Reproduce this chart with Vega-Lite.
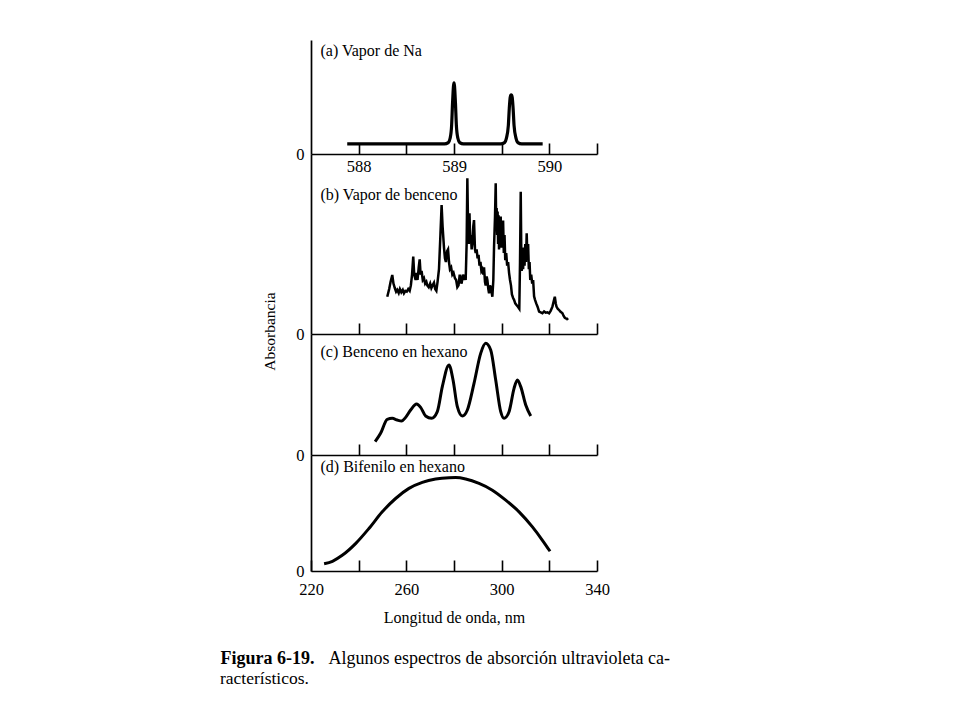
{
  "$schema": "https://vega.github.io/schema/vega-lite/v6.json",
  "padding": {"left": 220, "top": 40, "right": 20, "bottom": 10},
  "background": "white",
  "bounds": "flush",
  "spacing": 0,
  "config": {
    "view": {"stroke": null},
    "font": "Liberation Serif",
    "axis": {
      "domainColor": "black", "domainWidth": 1.7, "tickColor": "black", "tickWidth": 1.6,
      "labelColor": "black", "titleColor": "black", "labelFont": "Liberation Serif", "titleFont": "Liberation Serif",
      "labelFontSize": 16.5, "titleFontSize": 16, "titleFontWeight": "normal", "grid": false,
      "labelFlush": false, "labelOverlap": false
    },
    "title": {"font": "Liberation Serif", "color": "black"}
  },
  "vconcat": [
    {
      "width": 286, "height": 114,
      "data": {"values": [
        {"nm": 587.88, "A": 0.088}, {"nm": 588.90, "A": 0.088}, {"nm": 588.94, "A": 0.10}, {"nm": 588.96, "A": 0.14},
        {"nm": 588.975, "A": 0.25}, {"nm": 588.985, "A": 0.45}, {"nm": 588.995, "A": 0.60}, {"nm": 589.0, "A": 0.625},
        {"nm": 589.005, "A": 0.60}, {"nm": 589.015, "A": 0.45}, {"nm": 589.025, "A": 0.25}, {"nm": 589.04, "A": 0.14},
        {"nm": 589.06, "A": 0.10}, {"nm": 589.10, "A": 0.088}, {"nm": 589.49, "A": 0.088}, {"nm": 589.53, "A": 0.10},
        {"nm": 589.55, "A": 0.14}, {"nm": 589.57, "A": 0.25}, {"nm": 589.58, "A": 0.40}, {"nm": 589.59, "A": 0.50},
        {"nm": 589.6, "A": 0.518}, {"nm": 589.61, "A": 0.50}, {"nm": 589.62, "A": 0.40}, {"nm": 589.63, "A": 0.25},
        {"nm": 589.65, "A": 0.14}, {"nm": 589.67, "A": 0.10}, {"nm": 589.71, "A": 0.088}, {"nm": 589.93, "A": 0.088}
      ]},
      "mark": {"type": "line", "color": "black", "strokeWidth": 3.2, "interpolate": "monotone"},
      "encoding": {
        "x": {"field": "nm", "type": "quantitative", "scale": {"domain": [587.5, 590.5], "nice": false, "zero": false},
          "axis": {"values": [588, 588.5, 589, 589.5, 590, 590.5], "tickSize": -11, "labelPadding": 15,
            "labelExpr": "datum.value % 1 == 0 ? format(datum.value, 'd') : ''",
            "title": "Figura 6-19.", "titleX": -91, "titleY": 509, "titleAngle": 0, "titleAlign": "left",
            "titleBaseline": "alphabetic", "titleFontWeight": "bold", "titleFontSize": 18}},
        "y": {"field": "A", "type": "quantitative", "scale": {"domain": [0, 1], "nice": false},
          "axis": {"values": [0], "ticks": false, "labelPadding": 7, "title": "(a) Vapor de Na",
            "titleAngle": 0, "titleX": 9, "titleY": 10, "titleAlign": "left", "titleBaseline": "middle"}}
      }
    },
    {
      "width": 286, "height": 180,
      "data": {"values": [
        {"nm": 252.0, "A": 0.207}, {"nm": 252.8, "A": 0.25}, {"nm": 253.4, "A": 0.29}, {"nm": 254.1, "A": 0.328},
        {"nm": 254.6, "A": 0.28}, {"nm": 255.2, "A": 0.254}, {"nm": 255.7, "A": 0.235}, {"nm": 256.2, "A": 0.245},
        {"nm": 256.8, "A": 0.228}, {"nm": 257.3, "A": 0.25}, {"nm": 257.9, "A": 0.232}, {"nm": 258.5, "A": 0.245},
        {"nm": 259.0, "A": 0.226}, {"nm": 259.6, "A": 0.24}, {"nm": 260.2, "A": 0.236}, {"nm": 260.8, "A": 0.25},
        {"nm": 261.4, "A": 0.24}, {"nm": 261.9, "A": 0.27}, {"nm": 262.4, "A": 0.33}, {"nm": 262.9, "A": 0.43},
        {"nm": 263.3, "A": 0.33}, {"nm": 263.9, "A": 0.30}, {"nm": 264.3, "A": 0.34}, {"nm": 264.7, "A": 0.30},
        {"nm": 265.2, "A": 0.37}, {"nm": 265.6, "A": 0.415}, {"nm": 266.0, "A": 0.33}, {"nm": 266.4, "A": 0.35},
        {"nm": 266.9, "A": 0.30}, {"nm": 267.4, "A": 0.31}, {"nm": 267.9, "A": 0.28}, {"nm": 268.4, "A": 0.29},
        {"nm": 268.8, "A": 0.27}, {"nm": 269.4, "A": 0.26}, {"nm": 270.0, "A": 0.28}, {"nm": 270.5, "A": 0.255},
        {"nm": 271.0, "A": 0.27}, {"nm": 271.6, "A": 0.285}, {"nm": 272.1, "A": 0.25}, {"nm": 272.6, "A": 0.24},
        {"nm": 273.1, "A": 0.29}, {"nm": 273.7, "A": 0.36}, {"nm": 274.3, "A": 0.55}, {"nm": 274.8, "A": 0.717},
        {"nm": 275.2, "A": 0.60}, {"nm": 275.8, "A": 0.48}, {"nm": 276.2, "A": 0.42}, {"nm": 276.6, "A": 0.40},
        {"nm": 277.1, "A": 0.46}, {"nm": 277.5, "A": 0.47}, {"nm": 277.9, "A": 0.40}, {"nm": 278.3, "A": 0.36},
        {"nm": 278.8, "A": 0.37}, {"nm": 279.3, "A": 0.33}, {"nm": 279.8, "A": 0.34}, {"nm": 280.4, "A": 0.31},
        {"nm": 280.9, "A": 0.30}, {"nm": 281.4, "A": 0.26}, {"nm": 281.9, "A": 0.27}, {"nm": 282.4, "A": 0.33},
        {"nm": 282.8, "A": 0.30}, {"nm": 283.2, "A": 0.28}, {"nm": 283.7, "A": 0.33}, {"nm": 284.2, "A": 0.30},
        {"nm": 284.6, "A": 0.33}, {"nm": 284.9, "A": 0.30}, {"nm": 285.3, "A": 0.50}, {"nm": 285.6, "A": 0.865},
        {"nm": 285.9, "A": 0.60}, {"nm": 286.2, "A": 0.50}, {"nm": 286.5, "A": 0.67}, {"nm": 286.8, "A": 0.52},
        {"nm": 287.1, "A": 0.55}, {"nm": 287.4, "A": 0.47}, {"nm": 287.7, "A": 0.50}, {"nm": 288.1, "A": 0.60},
        {"nm": 288.4, "A": 0.633}, {"nm": 288.8, "A": 0.47}, {"nm": 289.1, "A": 0.45}, {"nm": 289.5, "A": 0.47},
        {"nm": 289.9, "A": 0.42}, {"nm": 290.3, "A": 0.44}, {"nm": 290.7, "A": 0.38}, {"nm": 291.1, "A": 0.40},
        {"nm": 291.5, "A": 0.35}, {"nm": 291.9, "A": 0.36}, {"nm": 292.3, "A": 0.33}, {"nm": 292.6, "A": 0.37},
        {"nm": 293.0, "A": 0.29}, {"nm": 293.3, "A": 0.27}, {"nm": 293.7, "A": 0.32}, {"nm": 294.0, "A": 0.30},
        {"nm": 294.4, "A": 0.25}, {"nm": 294.7, "A": 0.226}, {"nm": 295.1, "A": 0.27}, {"nm": 295.4, "A": 0.26},
        {"nm": 295.8, "A": 0.23}, {"nm": 296.1, "A": 0.207}, {"nm": 296.5, "A": 0.30}, {"nm": 296.8, "A": 0.485},
        {"nm": 297.2, "A": 0.65}, {"nm": 297.5, "A": 0.837}, {"nm": 297.7, "A": 0.62}, {"nm": 297.9, "A": 0.70},
        {"nm": 298.1, "A": 0.55}, {"nm": 298.3, "A": 0.68}, {"nm": 298.5, "A": 0.50}, {"nm": 298.7, "A": 0.66},
        {"nm": 298.9, "A": 0.47}, {"nm": 299.1, "A": 0.64}, {"nm": 299.3, "A": 0.50}, {"nm": 299.6, "A": 0.652},
        {"nm": 299.8, "A": 0.48}, {"nm": 300.0, "A": 0.60}, {"nm": 300.3, "A": 0.485}, {"nm": 300.6, "A": 0.63},
        {"nm": 300.9, "A": 0.45}, {"nm": 301.2, "A": 0.55}, {"nm": 301.5, "A": 0.41}, {"nm": 301.9, "A": 0.45},
        {"nm": 302.3, "A": 0.38}, {"nm": 302.7, "A": 0.40}, {"nm": 303.1, "A": 0.34}, {"nm": 303.5, "A": 0.30},
        {"nm": 303.9, "A": 0.27}, {"nm": 304.3, "A": 0.22}, {"nm": 304.8, "A": 0.20}, {"nm": 305.2, "A": 0.19},
        {"nm": 305.7, "A": 0.17}, {"nm": 306.3, "A": 0.16}, {"nm": 306.9, "A": 0.15}, {"nm": 307.4, "A": 0.14},
        {"nm": 307.7, "A": 0.40}, {"nm": 308.0, "A": 0.79}, {"nm": 308.2, "A": 0.50}, {"nm": 308.4, "A": 0.35},
        {"nm": 308.7, "A": 0.45}, {"nm": 309.0, "A": 0.36}, {"nm": 309.3, "A": 0.48}, {"nm": 309.6, "A": 0.38},
        {"nm": 309.9, "A": 0.50}, {"nm": 310.2, "A": 0.40}, {"nm": 310.5, "A": 0.56}, {"nm": 310.8, "A": 0.42},
        {"nm": 311.1, "A": 0.50}, {"nm": 311.4, "A": 0.36}, {"nm": 311.7, "A": 0.40}, {"nm": 312.0, "A": 0.30},
        {"nm": 312.4, "A": 0.33}, {"nm": 312.8, "A": 0.28}, {"nm": 313.2, "A": 0.30}, {"nm": 313.6, "A": 0.21},
        {"nm": 314.0, "A": 0.19}, {"nm": 314.5, "A": 0.17}, {"nm": 315.1, "A": 0.15}, {"nm": 315.7, "A": 0.124},
        {"nm": 316.4, "A": 0.12}, {"nm": 317.1, "A": 0.115}, {"nm": 317.8, "A": 0.125}, {"nm": 318.5, "A": 0.118},
        {"nm": 319.2, "A": 0.12}, {"nm": 319.9, "A": 0.115}, {"nm": 320.6, "A": 0.13}, {"nm": 321.3, "A": 0.152},
        {"nm": 321.8, "A": 0.18}, {"nm": 322.3, "A": 0.207}, {"nm": 322.7, "A": 0.17}, {"nm": 323.0, "A": 0.152},
        {"nm": 323.5, "A": 0.14}, {"nm": 324.1, "A": 0.133}, {"nm": 324.6, "A": 0.125}, {"nm": 325.1, "A": 0.12},
        {"nm": 325.5, "A": 0.115}, {"nm": 326.0, "A": 0.10}, {"nm": 326.5, "A": 0.09}, {"nm": 326.9, "A": 0.087},
        {"nm": 327.4, "A": 0.085}, {"nm": 327.8, "A": 0.078}
      ]},
      "mark": {"type": "line", "color": "black", "strokeWidth": 2.5, "interpolate": "linear"},
      "encoding": {
        "x": {"field": "nm", "type": "quantitative", "scale": {"domain": [220, 340], "nice": false, "zero": false},
          "axis": {"values": [240, 260, 280, 300, 320, 340], "tickSize": -11, "labels": false,
            "title": "Absorbancia", "titleX": -42, "titleY": -3, "titleAngle": 270, "titleAlign": "center",
            "titleBaseline": "middle", "titleFontSize": 15.5}},
        "y": {"field": "A", "type": "quantitative", "scale": {"domain": [0, 1], "nice": false},
          "axis": {"values": [0], "ticks": false, "labelPadding": 7, "title": "(b) Vapor de benceno",
            "titleAngle": 0, "titleX": 9, "titleY": 40, "titleAlign": "left", "titleBaseline": "middle"}}
      }
    },
    {
      "width": 286, "height": 121,
      "data": {"values": [
        {"nm": 246.9, "A": 0.110}, {"nm": 249.2, "A": 0.179}, {"nm": 252.0, "A": 0.295}, {"nm": 254.1, "A": 0.303},
        {"nm": 256.2, "A": 0.289}, {"nm": 258.0, "A": 0.281}, {"nm": 259.7, "A": 0.311}, {"nm": 261.8, "A": 0.372},
        {"nm": 264.3, "A": 0.421}, {"nm": 266.0, "A": 0.394}, {"nm": 268.1, "A": 0.322}, {"nm": 270.6, "A": 0.303},
        {"nm": 273.0, "A": 0.358}, {"nm": 275.1, "A": 0.565}, {"nm": 277.9, "A": 0.744}, {"nm": 279.6, "A": 0.620},
        {"nm": 281.4, "A": 0.399}, {"nm": 283.5, "A": 0.322}, {"nm": 285.6, "A": 0.372}, {"nm": 288.4, "A": 0.592},
        {"nm": 291.2, "A": 0.840}, {"nm": 293.3, "A": 0.923}, {"nm": 295.4, "A": 0.868}, {"nm": 297.5, "A": 0.620},
        {"nm": 299.6, "A": 0.358}, {"nm": 301.0, "A": 0.303}, {"nm": 303.1, "A": 0.358}, {"nm": 305.2, "A": 0.551},
        {"nm": 306.6, "A": 0.620}, {"nm": 308.0, "A": 0.565}, {"nm": 310.1, "A": 0.413}, {"nm": 312.2, "A": 0.322}
      ]},
      "mark": {"type": "line", "color": "black", "strokeWidth": 3, "interpolate": "monotone"},
      "encoding": {
        "x": {"field": "nm", "type": "quantitative", "scale": {"domain": [220, 340], "nice": false, "zero": false},
          "axis": {"values": [240, 260, 280, 300, 320, 340], "tickSize": -11, "labels": false,
            "title": "Algunos espectros de absorción ultravioleta ca-", "titleX": 17, "titleY": 208, "titleAngle": 0,
            "titleAlign": "left", "titleBaseline": "alphabetic", "titleFontSize": 18}},
        "y": {"field": "A", "type": "quantitative", "scale": {"domain": [0, 1], "nice": false},
          "axis": {"values": [0], "ticks": false, "labelPadding": 7, "title": "(c) Benceno en hexano",
            "titleAngle": 0, "titleX": 9, "titleY": 17, "titleAlign": "left", "titleBaseline": "middle"}}
      }
    },
    {
      "width": 286, "height": 116,
      "title": {"text": "racterísticos.", "orient": "bottom", "anchor": "start", "frame": "group", "dx": -91,
        "offset": 58, "baseline": "alphabetic", "fontSize": 17.5, "fontWeight": "normal", "color": "black",
        "font": "Liberation Serif"},
      "data": {"values": [
        {"nm": 225.5, "A": 0.063}, {"nm": 229.0, "A": 0.084}, {"nm": 233.1, "A": 0.135}, {"nm": 238.7, "A": 0.236},
        {"nm": 244.3, "A": 0.366}, {"nm": 249.9, "A": 0.510}, {"nm": 255.5, "A": 0.625}, {"nm": 261.1, "A": 0.712},
        {"nm": 266.7, "A": 0.764}, {"nm": 272.3, "A": 0.793}, {"nm": 277.9, "A": 0.804}, {"nm": 280.7, "A": 0.805},
        {"nm": 284.9, "A": 0.793}, {"nm": 290.5, "A": 0.755}, {"nm": 296.1, "A": 0.697}, {"nm": 301.7, "A": 0.611},
        {"nm": 307.3, "A": 0.510}, {"nm": 312.9, "A": 0.380}, {"nm": 317.1, "A": 0.265}, {"nm": 320.3, "A": 0.170}
      ]},
      "mark": {"type": "line", "color": "black", "strokeWidth": 3, "interpolate": "monotone"},
      "encoding": {
        "x": {"field": "nm", "type": "quantitative", "scale": {"domain": [220, 340], "nice": false, "zero": false},
          "axis": {"values": [220, 240, 260, 280, 300, 320, 340], "tickSize": -11, "labelPadding": 21,
            "labelExpr": "datum.value % 40 == 20 ? format(datum.value, 'd') : ''",
            "title": "Longitud de onda, nm", "titlePadding": 12}},
        "y": {"field": "A", "type": "quantitative", "scale": {"domain": [0, 1], "nice": false},
          "axis": {"values": [0], "ticks": false, "labelPadding": 7, "title": "(d) Bifenilo en hexano",
            "titleAngle": 0, "titleX": 9, "titleY": 11, "titleAlign": "left", "titleBaseline": "middle"}}
      }
    }
  ]
}
